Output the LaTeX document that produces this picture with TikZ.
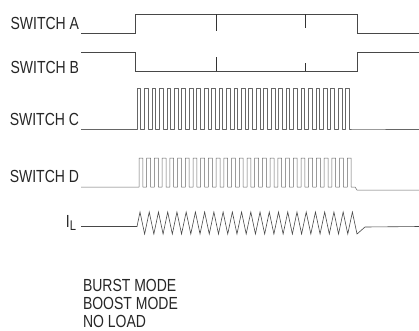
\documentclass[tikz,border=0pt]{standalone}
\usepackage{fontspec}
\setmainfont{Liberation Sans}[FakeStretch=0.8]
\begin{document}
\begin{tikzpicture}[x=1pt,y=-1pt,
  lbl/.style={inner sep=0pt, outer sep=0pt, font=\fontsize{17.5}{18.3}\selectfont, text=black!85},
  wave/.style={draw=black!72, line width=0.6pt, line join=miter},
  pulse/.style={draw=black!60, line width=0.5pt, line join=round},
  spike/.style={draw=black!80, line width=0.8pt}]
\useasboundingbox (0,0) rectangle (419,330);
% labels
\node[lbl, anchor=base east] (la) at (79,29) {SWITCH A};
\node[lbl, anchor=base east] (lb) at (79,73) {SWITCH B};
\node[lbl, anchor=base east] (lc) at (79,125) {SWITCH C};
\node[lbl, anchor=base east] (ld) at (79,182) {SWITCH D};
\node[lbl, anchor=base east] (li) at (76,227) {I\raisebox{-3.5pt}{\fontsize{14}{14}\selectfont L}};
\node[lbl, anchor=base west] (t1) at (83,291) {BURST MODE};
\node[lbl, anchor=base west] (t2) at (83,309.3) {BOOST MODE};
\node[lbl, anchor=base west] (t3) at (83,327.3) {NO LOAD};
% switch A
\draw[wave] (81,33) -- (135,33) -- (135,14) -- (357,14) -- (357,33) -- (419,33);
\draw[spike] (216,14) -- (216,31);
\draw[spike] (305,14) -- (305,28);
% switch B
\draw[wave] (81,52) -- (135,52) -- (135,71) -- (357,71) -- (357,52) -- (419,52);
\draw[spike] (216,71) -- (216,57);
\draw[spike] (305,71) -- (305,63);
% switch C
\draw[pulse] (81,129) -- (137,129) foreach \i in {1,...,29} { -- ++(0,-41) -- ++(3.724,0) -- ++(0,41) -- ++(3.724,0) } -- (419,129);
% switch D
\draw[pulse] (81,187) -- (139,187) foreach \i in {1,...,28} { -- ++(0,-29) -- ++(3.857,0) -- ++(0,29) -- ++(3.857,0) } -- (357,190) -- (419,190);
% inductor current
\draw[wave] (81,226.5) -- (137,226.5) -- (140,212) foreach \i in {1,...,23} { -- ++(4.617,22) -- ++(4.617,-22) } -- ++(4.617,22) -- (365,227) -- (419,226.5);
\end{tikzpicture}
\end{document}
